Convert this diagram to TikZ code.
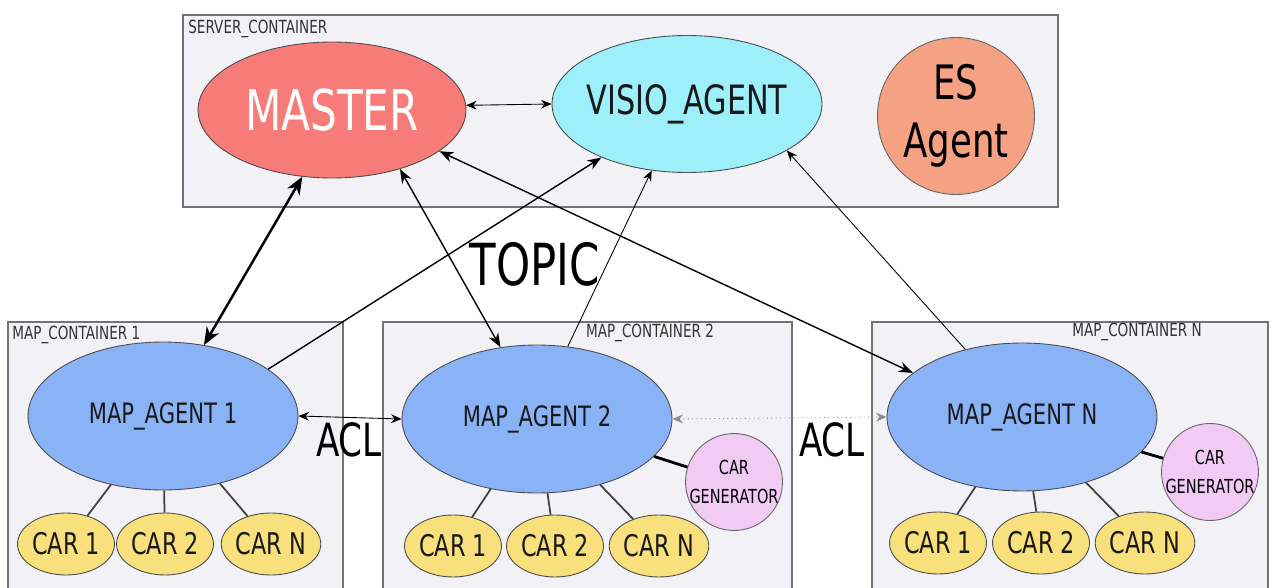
\documentclass[tikz,border=0pt]{standalone}
\usepackage{fontspec}
\setmainfont{DejaVu Sans}[FakeStretch=0.75]
\usetikzlibrary{shapes.geometric,arrows.meta}

\definecolor{boxgray}{HTML}{F2F1F5}
\definecolor{mastercol}{HTML}{F77C79}
\definecolor{visiocol}{HTML}{9DEFFA}
\definecolor{escol}{HTML}{F4A283}
\definecolor{mapcol}{HTML}{8AB3F7}
\definecolor{carcol}{HTML}{F8E17C}
\definecolor{gencol}{HTML}{F1CBF4}

\begin{document}
\begin{tikzpicture}[x=0.02cm, y=-0.02cm,
    container/.style={draw=black!55, line width=0.9pt, fill=boxgray},
    boxlabel/.style={font=\fontsize{10.3}{12}\selectfont, text=black!80, inner sep=0pt},
    agent/.style={ellipse, draw=black!70, line width=0.5pt, inner sep=0pt, text=black!90},
    mapagent/.style={agent, fill=mapcol, minimum width=5.4cm, minimum height=2.96cm, font=\fontsize{16}{18}\selectfont},
    car/.style={agent, fill=carcol, minimum width=1.94cm, minimum height=1.24cm, font=\fontsize{17}{19}\selectfont},
    generator/.style={circle, draw=black!60, line width=0.5pt, fill=gencol, minimum size=1.94cm, inner sep=-1pt, align=center, font=\fontsize{11}{16}\selectfont},
    bigtext/.style={inner sep=0pt},
    thicklink/.style={line width=1.4pt, {Stealth[length=10pt,width=8pt,inset=3pt]}-{Stealth[length=10pt,width=8pt,inset=3pt]}},
    midlink/.style={line width=0.8pt, {Stealth[length=8pt,width=6pt,inset=2.5pt]}-{Stealth[length=8pt,width=6pt,inset=2.5pt]}},
    thinlink/.style={line width=0.5pt, {Stealth[length=6pt,width=5pt,inset=2pt]}-{Stealth[length=6pt,width=5pt,inset=2pt]}},
    carlink/.style={line width=1pt, draw=black!75},
    genlink/.style={line width=1.6pt}
]
    \useasboundingbox (0,0) rectangle (1275,588);

    % Containers
    \filldraw[container] (183,15) rectangle (1058,207);
    \node[boxlabel, anchor=north west] (serverlabel) at (188,20) {SERVER\_CONTAINER};

    \filldraw[container] (8,588) -- (8,322) -- (343,322) -- (343,588);
    \node[boxlabel, anchor=north west] (boxlabel1) at (12,326) {MAP\_CONTAINER 1};
    \filldraw[container] (383,588) -- (383,322) -- (792,322) -- (792,588);
    \node[boxlabel] (boxlabel2) at (650,333) {MAP\_CONTAINER 2};
    \filldraw[container] (872,588) -- (872,322) -- (1268,322) -- (1268,588);
    \node[boxlabel] (boxlabeln) at (1137,332) {MAP\_CONTAINER N};

    % Server agents
    \node[agent, fill=mastercol, minimum width=5.36cm, minimum height=2.72cm,
          text=white, font=\fontsize{32}{36}\selectfont] (master) at (332,110) {MASTER};
    \node[agent, fill=visiocol, minimum width=5.4cm, minimum height=2.74cm,
          font=\fontsize{23}{26}\selectfont] (visio) at (687,104) {\makebox[0pt]{VISIO\_AGENT}};
    \node[circle, draw=black!60, line width=0.5pt, fill=escol, minimum size=3.14cm,
          inner sep=0pt, align=center, font=\fontsize{27}{33}\selectfont] (es) at (956,116) {ES\\Agent};

    % Map agents
    \node[mapagent] (map1) at (163,416) {MAP\_AGENT 1};
    \node[mapagent] (map2) at (537,419) {MAP\_AGENT 2};
    \node[mapagent] (mapn) at (1022,417) {MAP\_AGENT N};

    % Cars under each map agent
    \foreach \m/\y/\xa/\xb/\xc in {1/544/66/165/271, 2/546/453/555/659, n/543/938/1041/1145} {
        \node[car] (car\m-1) at (\xa,\y) {CAR 1};
        \node[car] (car\m-2) at (\xb,\y) {CAR 2};
        \node[car] (car\m-n) at (\xc,\y) {CAR N};
        \foreach \c in {1,2,n} {
            \draw[carlink] (map\m) -- (car\m-\c);
        }
    }

    % Car generators
    \node[generator] (gen2) at (734,482) {CAR\\GENERATOR};
    \node[generator] (genn) at (1210,472) {CAR\\GENERATOR};
    \draw[genlink] (map2) -- (gen2);
    \draw[genlink] (mapn) -- (genn);

    % Links to the server
    \draw[thinlink] (master.2) -- (visio.west);
    \draw[thicklink] (master.246.6) -- (map1.60.4);
    \draw[midlink] (master.319) -- (map2.117);
    \draw[midlink] (master.339) -- (mapn.158);
    \draw[line width=0.8pt, -{Stealth[length=8pt,width=6pt,inset=2.5pt]}] (map1.24) -- (visio.212);
    \draw[line width=0.5pt, -{Stealth[length=6pt,width=5pt,inset=2pt]}] (map2.67) -- (visio.242);
    \draw[line width=0.5pt, -{Stealth[length=6pt,width=5pt,inset=2pt]}] (mapn.130) -- (visio.335);
    \node[bigtext, font=\fontsize{33}{36}\selectfont] (topic) at (535,264) {TOPIC};

    % ACL between map agents
    \draw[thinlink] (map1.east) -- (map2.west);
    \draw[thinlink, dotted, draw=black!45] (map2.east) -- (mapn.west);
    \node[bigtext, font=\fontsize{26}{30}\selectfont] (acl1) at (349,440) {ACL};
    \node[bigtext, font=\fontsize{26}{30}\selectfont] (acl2) at (832,440) {ACL};
\end{tikzpicture}
\end{document}
